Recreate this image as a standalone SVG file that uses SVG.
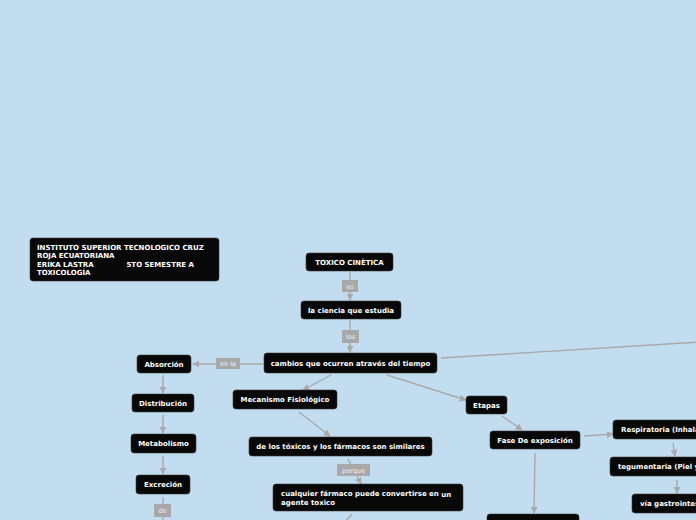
<svg xmlns="http://www.w3.org/2000/svg" width="696" height="520" viewBox="0 0 696 520">
<style>
.n rect{fill:#080808;stroke:#3a3a3a;stroke-width:0.6}
.n text{fill:#ffffff;font-family:"DejaVu Sans",Verdana,sans-serif;font-weight:bold;font-size:7px}
.c path,.c line{stroke:#a9a9a9;stroke-width:1.4;fill:none}
.lb rect{fill:#a8a8a8}
.lb text{fill:#f0f0f0;font-family:"DejaVu Sans",Verdana,sans-serif;font-size:6.5px;text-anchor:middle}
.m{text-anchor:middle}
</style>
<defs>
<marker id="ah" viewBox="0 0 10 10" refX="9" refY="5" markerWidth="7" markerHeight="7" markerUnits="userSpaceOnUse" orient="auto">
<path d="M0,0 L10,5 L0,10 Z" fill="#a9a9a9"/>
</marker>
</defs>
<rect width="696" height="520" fill="#c2ddf0"/>
<g class="c" id="connectors">
<line x1="350" y1="272" x2="350" y2="300" marker-end="url(#ah)"/>
<line x1="350" y1="320" x2="350" y2="352" marker-end="url(#ah)"/>
<line x1="441" y1="358" x2="700" y2="342"/>
<line x1="263" y1="364" x2="193" y2="364" marker-end="url(#ah)"/>
<line x1="163" y1="375" x2="163" y2="393" marker-end="url(#ah)"/>
<line x1="163" y1="415" x2="163" y2="433" marker-end="url(#ah)"/>
<line x1="163" y1="456" x2="163" y2="474" marker-end="url(#ah)"/>
<line x1="163" y1="497" x2="163" y2="520"/>
<line x1="331" y1="375" x2="303" y2="390" marker-end="url(#ah)"/>
<line x1="299" y1="412" x2="330" y2="436" marker-end="url(#ah)"/>
<line x1="348" y1="459" x2="361" y2="484" marker-end="url(#ah)"/>
<line x1="352" y1="514" x2="346" y2="521"/>
<line x1="387" y1="375" x2="466" y2="400" marker-end="url(#ah)"/>
<line x1="502" y1="416" x2="522" y2="430" marker-end="url(#ah)"/>
<line x1="584" y1="436" x2="613" y2="434" marker-end="url(#ah)"/>
<line x1="673" y1="443" x2="675" y2="456" marker-end="url(#ah)"/>
<line x1="677" y1="480" x2="677" y2="493" marker-end="url(#ah)"/>
<line x1="535" y1="453" x2="534" y2="513" marker-end="url(#ah)"/>
</g>
<g class="lb" id="labels">
<g><rect x="342" y="280" width="16" height="12"/><text x="350" y="289">es</text></g>
<g><rect x="342" y="330" width="17" height="13"/><text x="350.5" y="339">los</text></g>
<g><rect x="216" y="358" width="24" height="11"/><text x="228" y="366">en la</text></g>
<g><rect x="337" y="464" width="33" height="12"/><text x="353.5" y="472.5">porque</text></g>
<g><rect x="154" y="504" width="17" height="13"/><text x="162.5" y="513">de</text></g>
</g>
<g class="n" id="n_title"><rect x="30" y="238" width="189" height="43" rx="3"/>
<text x="37" y="249.5">INSTITUTO SUPERIOR TECNOLOGICO CRUZ</text>
<text x="37" y="257.5">ROJA ECUATORIANA</text>
<text x="37" y="266.5">ERIKA LASTRA</text><text x="126.5" y="266.5">5TO SEMESTRE A</text>
<text x="37" y="275">TOXICOLOGÍA</text></g>
<g class="n" id="n_toxico"><rect x="306" y="253" width="87" height="18" rx="3"/><text class="m" x="349.5" y="264.5">TOXICO CINÈTICA</text></g>
<g class="n" id="n_ciencia"><rect x="301" y="301" width="100" height="18" rx="3"/><text class="m" x="351" y="313">la ciencia que estudia</text></g>
<g class="n" id="n_cambios"><rect x="264" y="353" width="173" height="20" rx="3"/><text class="m" x="350.5" y="366">cambios que ocurren através del tiempo</text></g>
<g class="n" id="n_absorcion"><rect x="137" y="355" width="54" height="18" rx="3"/><text class="m" x="164" y="367">Absorción</text></g>
<g class="n" id="n_distribucion"><rect x="132" y="394" width="62" height="18" rx="3"/><text class="m" x="163" y="406">Distribución</text></g>
<g class="n" id="n_metabolismo"><rect x="131" y="434" width="65" height="19" rx="3"/><text class="m" x="163.5" y="446">Metabolismo</text></g>
<g class="n" id="n_excrecion"><rect x="136" y="475" width="54" height="19" rx="3"/><text class="m" x="163" y="487">Excreción</text></g>
<g class="n" id="n_mecanismo"><rect x="233" y="390" width="104" height="19" rx="3"/><text class="m" x="285" y="402">Mecanismo Fisiológico</text></g>
<g class="n" id="n_similares"><rect x="249" y="437" width="183" height="19" rx="3"/><text class="m" x="340.5" y="449">de los tóxicos y los fármacos son similares</text></g>
<g class="n" id="n_cualquier"><rect x="273" y="484" width="190" height="27" rx="3"/>
<text x="281" y="496">cualquier fármaco puede convertirse en <tspan dy="1">un</tspan></text>
<text x="281" y="505">agente toxico</text></g>
<g class="n" id="n_etapas"><rect x="466" y="396" width="41" height="18" rx="3"/><text class="m" x="486.5" y="408">Etapas</text></g>
<g class="n" id="n_fase"><rect x="490" y="431" width="90" height="18" rx="3"/><text class="m" x="535" y="443">Fase De exposición</text></g>
<g class="n" id="n_respiratoria"><rect x="613" y="420" width="100" height="19" rx="3"/><text x="621" y="432">Respiratoria (Inhalación)</text></g>
<g class="n" id="n_tegumentaria"><rect x="610" y="457" width="110" height="19" rx="3"/><text x="618" y="469">tegumentaria (Piel y mucosas)</text></g>
<g class="n" id="n_gastro"><rect x="632" y="494" width="90" height="19" rx="3"/><text x="640" y="506">vía gastrointestinal</text></g>
<g class="n" id="n_bottom"><rect x="487" y="514" width="92" height="20" rx="3"/></g>
</svg>
